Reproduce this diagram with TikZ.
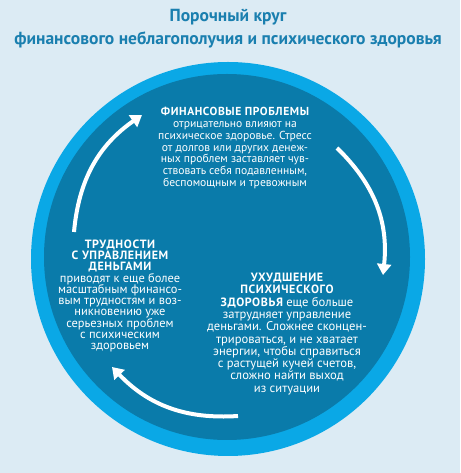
\documentclass[tikz,border=0pt]{standalone}
\usepackage{fontspec}
\setmainfont{PT Sans}
\newfontfamily\headfont[LetterSpace=5]{PT Sans}
\usetikzlibrary{arrows.meta}
\definecolor{bgblue}{HTML}{DCEBF4}
\definecolor{ringblue}{HTML}{0AA8E6}
\definecolor{coreblue}{HTML}{0A7BAA}
\definecolor{titleblue}{HTML}{1A7FAF}
\setlength{\lineskiplimit}{-6pt}

\begin{document}
\begin{tikzpicture}[x=1pt,y=1pt,
  blurb/.style={align=center,text=white,font=\fontsize{11.6}{11.7}\selectfont},
  cycarrow/.style={white,line width=4pt,-{Triangle[width=14pt,length=11pt]}}]
% Background
\fill[bgblue] (0,0) rectangle (460,473);
\useasboundingbox (0,0) rectangle (460,473);

% Title
\node[align=center,text=titleblue,font=\fontsize{17.5}{23}\selectfont\bfseries] (title) at (228,444)
  {Порочный круг\\финансового неблагополучия и психического здоровья};

% Circles
\fill[ringblue] (228,214) circle (197);
\fill[coreblue] (227,216) circle (183);

% Stages of the cycle
\node[blurb] (finance) at (235,325) {{\headfont\bfseries ФИНАНСОВЫЕ ПРОБЛЕМЫ}\\
  отрицательно влияют на\\психическое здоровье. Стресс\\от долгов или других денеж-\\
  ных проблем заставляет чув-\\ствовать себя подавленным,\\беспомощным и тревожным};
\node[blurb,font=\fontsize{12.6}{12.3}\selectfont] (health) at (287,139) {{\headfont\bfseries\fontsize{12}{12.3}\selectfont УХУДШЕНИЕ}\\
  {\headfont\bfseries\fontsize{12}{12.3}\selectfont ПСИХИЧЕСКОГО}\\{\headfont\bfseries\fontsize{12}{12.3}\selectfont ЗДОРОВЬЯ} еще больше\\затрудняет управление\\
  деньгами. Сложнее сконцен-\\трироваться, и не хватает\\энергии, чтобы справиться\\
  с растущей кучей счетов,\\сложно найти выход\\из ситуации};
\node[blurb,font=\fontsize{12.4}{11.3}\selectfont] (manage) at (120,177) {{\headfont\bfseries\fontsize{12}{11.3}\selectfont ТРУДНОСТИ}\\
  {\headfont\bfseries\fontsize{12}{11.3}\selectfont С УПРАВЛЕНИЕМ}\\{\headfont\bfseries\fontsize{12}{11.3}\selectfont ДЕНЬГАМИ}\\приводят к еще более\\
  масштабным финансо-\\вым трудностям и воз-\\никновению уже\\серьезных проблем\\
  с психическим\\здоровьем};

% Cycle arrows
\coordinate (a1s) at (74,241);  \coordinate (a1e) at (142,358);
\coordinate (a2s) at (337,325); \coordinate (a2e) at (383,198);
\coordinate (a3s) at (238,57);  \coordinate (a3e) at (112,106);
\draw[cycarrow] (a1s) to[bend left=25] (a1e);
\draw[cycarrow] (a2s) to[bend left=26] (a2e);
\draw[cycarrow] (a3s) to[bend left=25] (a3e);
\end{tikzpicture}
\end{document}
